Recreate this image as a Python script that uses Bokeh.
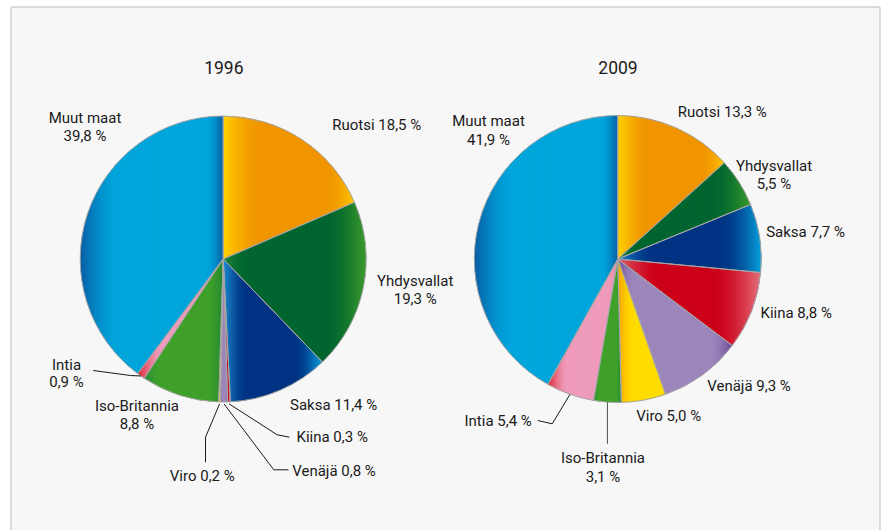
import math
from bokeh.plotting import figure
from bokeh.models import Range1d, ColumnDataSource
from bokeh.embed import file_html
from bokeh.resources import INLINE
from bokeh.core.properties import value

# ---------------- data ----------------
countries = ["Ruotsi", "Yhdysvallat", "Saksa", "Kiina", "Venäjä", "Viro",
             "Iso-Britannia", "Intia", "Muut maat"]
share_1996 = [18.5, 19.3, 11.4, 0.3, 0.8, 0.2, 8.8, 0.9, 39.8]
share_2009 = [13.3, 5.5, 7.7, 8.8, 9.3, 5.0, 3.1, 5.4, 41.9]
years = ["1996", "2009"]

# ---------------- styles ----------------
# (left colour, middle colour, right colour, left fade width, right fade width)
gradients = {
    "Ruotsi":        ("#ffd400", "#f09500", "#ffc800", 0.30, 0.22),
    "Yhdysvallat":   ("#22873a", "#00652f", "#3d9d2c", 0.18, 0.30),
    "Saksa":         ("#1b8fd2", "#003383", "#08a2de", 0.25, 0.30),
    "Kiina":         ("#dd6470", "#cc0019", "#e5727e", 0.30, 0.35),
    "Venäjä":        ("#6c4896", "#9c86bb", "#6c4896", 0.15, 0.20),
    "Viro":          ("#f5a200", "#ffdc00", "#ffdc00", 0.35, 0.20),
    "Iso-Britannia": ("#25883a", "#3fa02a", "#1f8533", 0.20, 0.20),
    "Intia":         ("#d9252c", "#ef9bbc", "#e88aa8", 0.30, 0.20),
    "Muut maat":     ("#0a5ca3", "#00a5dc", "#0a5ca3", 0.28, 0.12),
}
FONT = "Roboto"
TEXT_COLOR = "#1a1a1a"
LABEL_SIZE = "15px"
TITLE_SIZE = "17.5px"

W, H = 883, 530
def Y(page_y):           # page y (down) -> data y (up)
    return H - page_y

centers = [(222.7, 258.5), (617.3, 258.5)]
radii = [143.0, 143.5]
title_pos = [(223.3, 66.7), (617.5, 66.7)]

# label layout per pie: country -> (mode, x, y_line1, y_line2)
label_layout = [
    {
        "Ruotsi": ("left", 331.7, 124.0, None),
        "Yhdysvallat": ("two", 414.7, 280.7, 298.3),
        "Saksa": ("left", 289.5, 404.0, None),
        "Kiina": ("left", 296.0, 436.7, None),
        "Venäjä": ("left", 291.7, 470.7, None),
        "Viro": ("left", 169.3, 475.0, None),
        "Iso-Britannia": ("two", 136.5, 405.7, 423.3),
        "Intia": ("two", 66.0, 364.0, 381.7),
        "Muut maat": ("two", 84.5, 117.3, 135.0),
    },
    {
        "Ruotsi": ("left", 677.3, 111.7, None),
        "Yhdysvallat": ("two", 773.5, 165.0, 183.3),
        "Saksa": ("left", 765.7, 231.7, None),
        "Kiina": ("left", 760.0, 312.7, None),
        "Venäjä": ("left", 706.7, 385.0, None),
        "Viro": ("left", 635.7, 415.0, None),
        "Iso-Britannia": ("two", 602.5, 457.3, 476.7),
        "Intia": ("left", 464.0, 420.0, None),
        "Muut maat": ("two", 488.0, 120.7, 139.0),
    },
]
# leader lines: country -> (elbow points (page coords, None x = rim x), extra radius, colour)
leaders = [
    {
        "Intia": ([(92.7, 370.0), (130.0, 375.0)], 0.0, "#1a1a1a"),
        "Kiina": ([(289.0, 436.7), (276.7, 434.3)], 2.0, "#1a1a1a"),
        "Venäjä": ([(288.0, 469.3), (273.3, 469.3)], 2.0, "#1a1a1a"),
        "Viro": ([(205.0, 461.7), (205.0, 436.7)], 2.0, "#1a1a1a"),
    },
    {
        "Intia": ([(537.3, 420.0), (551.7, 423.3)], 0.0, "#1a1a1a"),
        "Iso-Britannia": ([(None, 443.3)], 0.0, "#555555"),
    },
]


def fmt(v):
    return ("%.1f" % v).replace(".", ",") + " %"


def mix(c1, c2, s):
    a = [int(c1[i:i + 2], 16) for i in (1, 3, 5)]
    b = [int(c2[i:i + 2], 16) for i in (1, 3, 5)]
    return "#%02x%02x%02x" % tuple(int(round(a[k] + (b[k] - a[k]) * s)) for k in range(3))


def ease(s):
    s = max(0.0, min(1.0, s))
    return math.sin(s * math.pi / 2)


def grad_color(t, g):
    left, mid, right, wl, wr = g
    if t < wl:
        return mix(left, mid, ease(t / wl))
    if t > 1 - wr:
        return mix(right, mid, ease((1 - t) / wr))
    return mid


def clip(poly, x0, keep_greater):
    out = []
    n = len(poly)
    for i in range(n):
        P, Q = poly[i], poly[(i + 1) % n]
        inP = P[0] >= x0 if keep_greater else P[0] <= x0
        inQ = Q[0] >= x0 if keep_greater else Q[0] <= x0
        if inP:
            out.append(P)
        if inP != inQ:
            t = (x0 - P[0]) / (Q[0] - P[0])
            out.append((x0, P[1] + t * (Q[1] - P[1])))
    return out


p = figure(width=W, height=H, output_backend="svg", toolbar_location=None,
           x_range=Range1d(0, W), y_range=Range1d(0, H),
           min_border=0, x_axis_location=None, y_axis_location=None)
p.grid.visible = False
p.outline_line_color = None
p.background_fill_color = "white"
p.border_fill_color = "white"

# frame of the graphic
p.quad(left=[10.5], right=[879.5], top=[Y(6.5)], bottom=[Y(545)],
       fill_color="#f7f7f7", line_color="#bcbcbc", line_width=1)

for k, shares in enumerate([share_1996, share_2009]):
    cx, cy_page = centers[k]
    cy = Y(cy_page)
    r = radii[k]
    total = sum(shares)
    cum = 0.0
    starts, ends, mids_frac = [], [], []
    for v in shares:
        f0 = cum / total
        cum += v
        f1 = cum / total
        starts.append(math.pi / 2 - 2 * math.pi * f1)
        ends.append(math.pi / 2 - 2 * math.pi * f0)
        mids_frac.append((f0 + f1) / 2)

    src = ColumnDataSource(dict(
        x=[cx] * len(shares), y=[cy] * len(shares),
        start=starts, end=ends, country=countries, share=shares,
        color=[gradients[c][1] for c in countries]))
    # base wedges
    p.wedge(x="x", y="y", radius=r, start_angle="start", end_angle="end",
            fill_color="color", line_color=None, source=src)

    # gradient strips
    xs, ys, cols = [], [], []
    for i, c in enumerate(countries):
        a0, a1 = starts[i], ends[i]
        nseg = max(4, int(abs(a1 - a0) * 180 / math.pi))
        poly = [(cx, cy)] + [(cx + r * math.cos(a0 + (a1 - a0) * j / nseg),
                              cy + r * math.sin(a0 + (a1 - a0) * j / nseg))
                             for j in range(nseg + 1)]
        xmin = min(pt[0] for pt in poly)
        xmax = max(pt[0] for pt in poly)
        width = xmax - xmin
        if width < 6:
            continue
        nstr = int(math.ceil(width / 1.5))
        step = width / nstr
        for s in range(nstr):
            x0 = xmin + s * step
            x1 = x0 + step + 0.6
            part = clip(clip(poly, x0, True), x1, False)
            if len(part) < 3:
                continue
            xs.append([q[0] for q in part])
            ys.append([q[1] for q in part])
            cols.append(grad_color((s + 0.5) / nstr, gradients[c]))
    p.patches(xs=xs, ys=ys, fill_color=cols, line_color=None)

    # outlines
    p.wedge(x="x", y="y", radius=r, start_angle="start", end_angle="end",
            fill_alpha=0, line_color="#a6a6a6", line_width=1, source=src)

    # leader lines
    lx, ly, lc = [], [], []
    for c, (elbows, extra, col) in leaders[k].items():
        i = countries.index(c)
        ang = math.pi / 2 - 2 * math.pi * mids_frac[i]
        rx = cx + (r + extra) * math.cos(ang)
        ry = cy + (r + extra) * math.sin(ang)
        pts = [((rx if ex is None else ex), Y(ey)) for ex, ey in elbows]
        pts.append((rx, ry))
        lx.append([q[0] for q in pts])
        ly.append([q[1] for q in pts])
        lc.append(col)
    p.multi_line(xs=lx, ys=ly, line_color=lc, line_width=1)

    # labels
    left_x, left_y, left_t = [], [], []
    cen_x, cen_y, cen_t = [], [], []
    for i, c in enumerate(countries):
        mode, lxp, y1, y2 = label_layout[k][c]
        if mode == "left":
            left_x.append(lxp); left_y.append(Y(y1)); left_t.append(c + " " + fmt(shares[i]))
        else:
            cen_x += [lxp, lxp]; cen_y += [Y(y1), Y(y2)]; cen_t += [c, fmt(shares[i])]
    p.text(x=left_x, y=left_y, text=left_t, text_font=value(FONT),
           text_font_size=LABEL_SIZE, text_align="left", text_baseline="middle",
           text_color=TEXT_COLOR)
    p.text(x=cen_x, y=cen_y, text=cen_t, text_font=value(FONT),
           text_font_size=LABEL_SIZE, text_align="center", text_baseline="middle",
           text_color=TEXT_COLOR)

    # title
    tx, ty = title_pos[k]
    p.text(x=[tx], y=[Y(ty)], text=[years[k]], text_font=value(FONT),
           text_font_size=TITLE_SIZE, text_align="center", text_baseline="middle",
           text_color=TEXT_COLOR)

open("out.html", "w").write(file_html(p, INLINE))
